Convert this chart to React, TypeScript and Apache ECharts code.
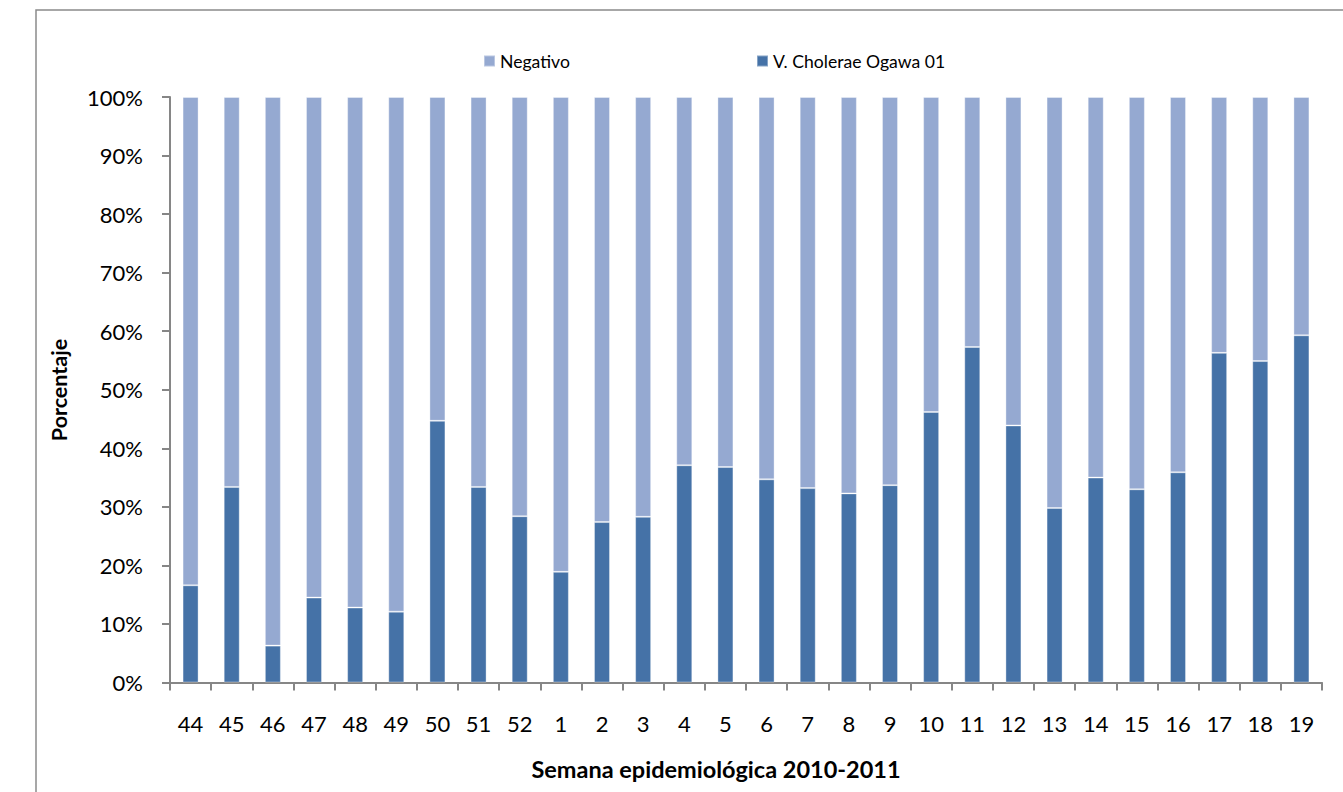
import React, { useEffect, useRef } from "react";
import * as echarts from "echarts";

const weeks = ["44", "45", "46", "47", "48", "49", "50", "51", "52", "1", "2", "3", "4", "5", "6", "7", "8", "9", "10", "11", "12", "13", "14", "15", "16", "17", "18", "19"];
const ogawa = [16.6, 33.4, 6.3, 14.5, 12.8, 12.1, 44.7, 33.4, 28.4, 18.9, 27.4, 28.3, 37.1, 36.8, 34.7, 33.2, 32.3, 33.7, 46.2, 57.3, 43.9, 29.8, 35.0, 33.0, 35.9, 56.3, 54.9, 59.3];
const negativo = [83.4, 66.6, 93.7, 85.5, 87.2, 87.9, 55.3, 66.6, 71.6, 81.1, 72.6, 71.7, 62.9, 63.2, 65.3, 66.8, 67.7, 66.3, 53.8, 42.7, 56.1, 70.2, 65.0, 67.0, 64.1, 43.7, 45.1, 40.7];

const DARK = "#4572A7";
const LIGHT = "#95A9D1";
const AXIS = "#868686";
const FONT = "Lato, 'Open Sans', sans-serif";

export default function App() {
  const ref = useRef<HTMLDivElement>(null);
  useEffect(() => {
    if (!ref.current) return;
    const chart = echarts.init(ref.current, null, { renderer: "svg" });
    const legendText = { fontFamily: FONT, fontSize: 17.6, color: "#000" };
    chart.setOption({
      animation: false,
      backgroundColor: "#ffffff",
      textStyle: { fontFamily: FONT },
      grid: { left: 170, right: 21, top: 97, bottom: 109.5 },
      legend: [
        {
          left: 483,
          top: 52,
          padding: 0,
          itemWidth: 11,
          itemHeight: 11,
          icon: "rect",
          data: ["Negativo"],
          textStyle: legendText,
        },
        {
          left: 756,
          top: 52,
          padding: 0,
          itemWidth: 11,
          itemHeight: 11,
          icon: "rect",
          data: ["V. Cholerae Ogawa 01"],
          textStyle: legendText,
        },
      ],
      xAxis: {
        type: "category",
        data: weeks,
        axisLine: { show: true, lineStyle: { color: AXIS, width: 2 } },
        axisTick: { show: true, length: 8, interval: 0, lineStyle: { color: AXIS, width: 2 } },
        axisLabel: { interval: 0, margin: 30, fontFamily: FONT, fontSize: 22, color: "#000" },
        splitLine: { show: false },
      },
      yAxis: {
        type: "value",
        min: 0,
        max: 100,
        interval: 10,
        axisLine: { show: true, lineStyle: { color: AXIS, width: 2 } },
        axisTick: { show: true, length: 8, lineStyle: { color: AXIS, width: 2 } },
        axisLabel: { formatter: "{value}%", margin: 27, fontFamily: FONT, fontSize: 22, color: "#000" },
        splitLine: { show: false },
      },
      graphic: [
        {
          type: "rect",
          shape: { x: 36, y: 10, width: 1400, height: 900 },
          style: { fill: "none", stroke: "#8a8a8a", lineWidth: 1.5 },
          silent: true,
        },
        {
          type: "text",
          x: 59,
          y: 390,
          rotation: Math.PI / 2,
          style: {
            text: "Porcentaje",
            fontFamily: FONT,
            fontWeight: "bold",
            fontSize: 21.5,
            fill: "#000",
            align: "center",
            verticalAlign: "middle",
          },
        },
        {
          type: "text",
          x: 716,
          y: 769,
          style: {
            text: "Semana epidemiológica 2010-2011",
            fontFamily: FONT,
            fontWeight: "bold",
            fontSize: 23.5,
            fill: "#000",
            align: "center",
            verticalAlign: "middle",
          },
        },
      ],
      series: [
        {
          name: "V. Cholerae Ogawa 01",
          type: "bar",
          stack: "total",
          barWidth: 16,
          data: ogawa,
          itemStyle: { color: DARK, borderColor: "rgba(255,255,255,0.35)", borderWidth: 1 },
        },
        {
          name: "Negativo",
          type: "bar",
          stack: "total",
          barWidth: 16,
          data: negativo,
          itemStyle: { color: LIGHT, borderColor: "rgba(255,255,255,0.35)", borderWidth: 1 },
        },
      ],
    });
    return () => chart.dispose();
  }, []);
  return (
    <div
      ref={ref}
      style={{ position: "fixed", left: 0, top: 0, width: 1343, height: 792 }}
    />
  );
}
